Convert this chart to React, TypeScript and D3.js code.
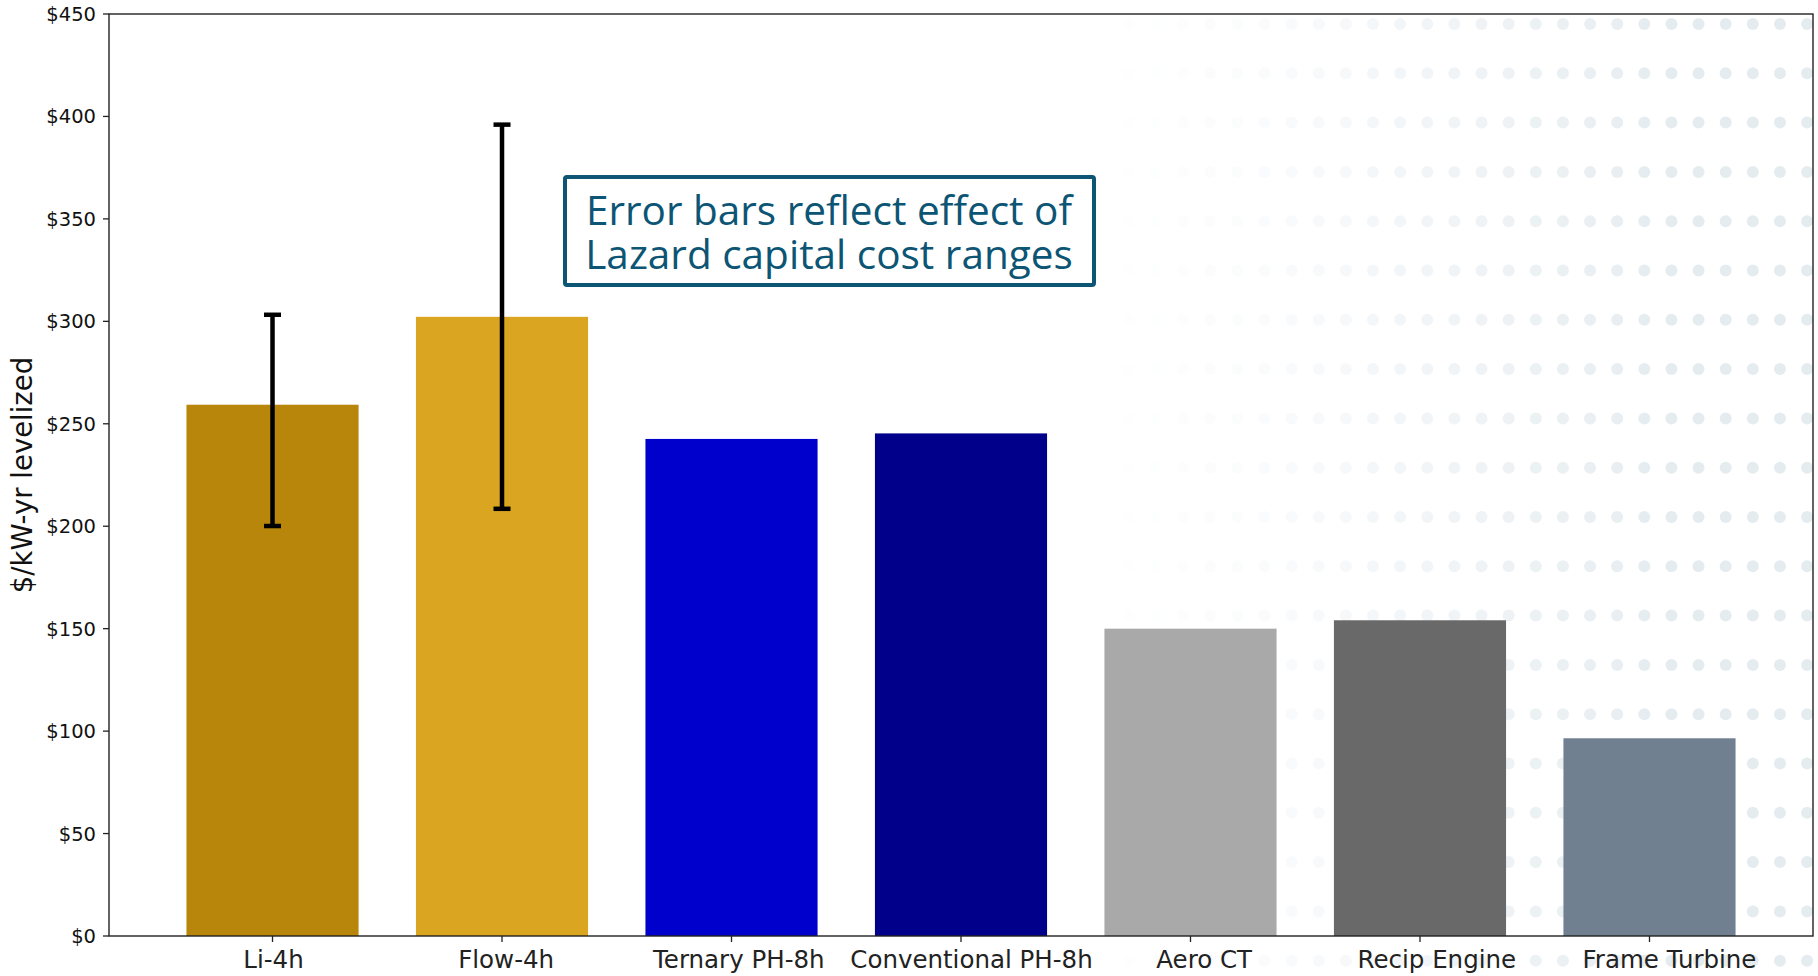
import React from "react";
import * as d3 from "d3";

const categories = ["Li-4h", "Flow-4h", "Ternary PH-8h", "Conventional PH-8h", "Aero CT", "Recip Engine", "Frame Turbine"];
const values = [259.3, 302.2, 242.6, 245.3, 150.0, 154.1, 96.5];
const errLow: (number | null)[] = [200.1, 208.5, null, null, null, null, null];
const errHigh: (number | null)[] = [303.2, 396.0, null, null, null, null, null];
const barColors = ["#b8860b", "#daa520", "#0000cd", "#00008b", "#a9a9a9", "#696969", "#708090"];
const yTicks = [0, 50, 100, 150, 200, 250, 300, 350, 400, 450];
const yLabel = "$/kW-yr levelized";
const noteLines = ["Error bars reflect effect of", "Lazard capital cost ranges"];

const W = 1818;
const H = 976;
const left = 109;
const right = 1813;
const top = 14;
const bottom = 936;
const barWidth = 0.75;

export default function App() {
  const x = d3.scaleLinear().domain([-0.7125, categories.length - 1 + 0.7125]).range([left, right]);
  const y = d3.scaleLinear().domain([0, 450]).range([bottom, top]);
  const unit = x(1) - x(0);
  // tick labels in the reference sit on a slightly stretched baseline
  const labelX = d3.scaleLinear().domain([x(0), x(6)]).range([x(0) + 1, x(6) + 20]);

  // decorative dotted background (fades in toward the right)
  const dotCols = d3.range(0, 27).map((i) => 1101.7 + i * 27.13);
  const dotRows = d3.range(0, 20).map((j) => 24 + j * 49.3);
  const fade = d3.scaleLinear().domain([1090, 1660]).range([0, 1]).clamp(true);

  const font = "'DejaVu Sans', sans-serif";
  const noteColor = "#0d5574";

  return (
    <svg width={W} height={H} style={{ position: "absolute", left: 0, top: 0, background: "#fff" }}>
      <defs>
        <clipPath id="dotclip">
          <rect x={0} y={0} width={right} height={H} />
        </clipPath>
      </defs>
      <g clipPath="url(#dotclip)">
        {dotRows.map((cy, j) =>
          dotCols.map((cx, i) => (
            <circle key={`d${j}-${i}`} cx={cx} cy={cy} r={6} fill="#e5ecf0" opacity={Math.pow(fade(cx), 1.3)} />
          ))
        )}
      </g>

      {/* bars */}
      {values.map((v, i) => (
        <rect
          key={`b${i}`}
          x={x(i - barWidth / 2)}
          y={y(v)}
          width={unit * barWidth}
          height={y(0) - y(v)}
          fill={barColors[i]}
        />
      ))}

      {/* error bars */}
      {values.map((v, i) => {
        const lo = errLow[i];
        const hi = errHigh[i];
        if (lo == null || hi == null) return null;
        const cx = x(i);
        return (
          <g key={`e${i}`} stroke="#000" strokeWidth={4.5}>
            <line x1={cx} x2={cx} y1={y(lo)} y2={y(hi)} />
            <line x1={cx - 8.5} x2={cx + 8.5} y1={y(lo)} y2={y(lo)} />
            <line x1={cx - 8.5} x2={cx + 8.5} y1={y(hi)} y2={y(hi)} />
          </g>
        );
      })}

      {/* axes frame */}
      <rect x={left} y={top} width={right - left} height={bottom - top} fill="none" stroke="#222" strokeWidth={1.4} />

      {/* y ticks */}
      {yTicks.map((t) => (
        <g key={`y${t}`}>
          <line x1={left - 6} x2={left} y1={y(t)} y2={y(t)} stroke="#222" strokeWidth={1.3} />
          <text x={left - 13} y={y(t)} dy="0.36em" textAnchor="end" fontFamily={font} fontSize={19.5} fill="#111">
            {"$" + d3.format(",")(t)}
          </text>
        </g>
      ))}

      {/* x ticks */}
      {categories.map((c, i) => (
        <g key={`x${i}`}>
          <line x1={x(i)} x2={x(i)} y1={bottom} y2={bottom + 6} stroke="#222" strokeWidth={1.3} />
          <text x={labelX(x(i))} y={968} textAnchor="middle" fontFamily={font} fontSize={24.5} fill="#222">
            {c}
          </text>
        </g>
      ))}

      {/* y label */}
      <text
        transform={`translate(32,${(top + bottom) / 2}) rotate(-90)`}
        textAnchor="middle"
        fontFamily={font}
        fontSize={27.5}
        fill="#111"
      >
        {yLabel}
      </text>

      {/* annotation box */}
      <rect x={565} y={177} width={529} height={108} fill="#fff" stroke={noteColor} strokeWidth={4} rx={2} />
      {noteLines.map((ln, k) => (
        <text
          key={`n${k}`}
          x={829}
          y={225 + k * 44}
          textAnchor="middle"
          fontFamily="'Open Sans', sans-serif"
          fontSize={40.5}
          fill={noteColor}
        >
          {ln}
        </text>
      ))}
    </svg>
  );
}
